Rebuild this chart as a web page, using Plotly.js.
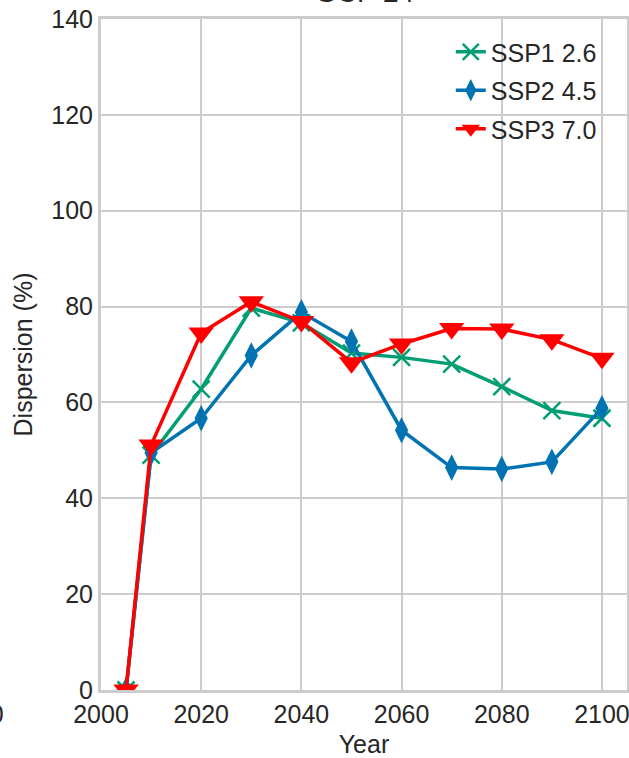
<!DOCTYPE html>
<html>
<head>
<meta charset="utf-8">
<script src="https://cdn.plot.ly/plotly-3.0.1.min.js"></script>
<style>html,body{margin:0;padding:0;background:#fff;}#chart{width:629px;height:758px;}</style>
</head>
<body>
<div id="chart"></div>
<script>
const years = [2005, 2010, 2020, 2030, 2040, 2050, 2060, 2070, 2080, 2090, 2100];
const ssp1 = [0, 49.0, 62.8, 79.7, 76.6, 70.3, 69.4, 68.0, 63.3, 58.3, 56.7];
const ssp2 = [0, 49.5, 56.7, 69.8, 78.8, 72.7, 54.2, 46.4, 46.1, 47.6, 58.8];
const ssp3 = [0, 51.1, 74.5, 81.0, 76.9, 68.3, 72.2, 75.4, 75.3, 73.1, 69.2];
const seriesNames = ['SSP1 2.6', 'SSP2 4.5', 'SSP3 7.0'];
const xTicks = [2000, 2020, 2040, 2060, 2080, 2100];
const yTicks = [0, 20, 40, 60, 80, 100, 120, 140];

const FONT = 'Liberation Sans, Arial, sans-serif';
const traces = [
  {x: years, y: ssp1, name: seriesNames[0], mode: 'lines+markers', legendgroup: 'a',
   line: {color: '#029e73', width: 3.5},
   marker: {symbol: 'x-thin', size: 17, line: {color: '#029e73', width: 2.5}, color: '#029e73'}},
  {x: years, y: ssp2, name: seriesNames[1], mode: 'lines+markers', legendgroup: 'b',
   line: {color: '#0173b2', width: 3.5},
   marker: {symbol: 'diamond-tall', size: 19, color: '#0173b2'}},
  {x: years, y: ssp3, name: seriesNames[2], mode: 'lines+markers', legendgroup: 'c',
   line: {color: '#ff0000', width: 3.5},
   marker: {symbol: 'triangle-down', size: 22, color: '#ff0000'}}
];

const layout = {
  width: 629, height: 758,
  margin: {l: 101, r: 2, t: 19, b: 68},
  paper_bgcolor: '#ffffff', plot_bgcolor: '#ffffff',
  font: {family: FONT, size: 25, color: '#262626'},
  showlegend: true,
  legend: {x: 0.665, xanchor: 'left', y: 0.985, yanchor: 'top', bgcolor: 'rgba(0,0,0,0)',
           borderwidth: 0, font: {family: FONT, size: 25, color: '#262626'},
           traceorder: 'grouped', tracegroupgap: 3},
  xaxis: {range: [2000, 2105], tickvals: xTicks, ticktext: xTicks.map(String),
          ticklabeloverflow: 'allow',
          showgrid: true, gridcolor: '#cccccc', gridwidth: 2,
          showline: true, linecolor: '#cccccc', linewidth: 3, mirror: true,
          zeroline: false, ticks: '', tickfont: {family: FONT, size: 25, color: '#262626'},
          title: {text: 'Year', font: {family: FONT, size: 25, color: '#262626'}, standoff: 10}},
  yaxis: {range: [0, 140], tickvals: yTicks, ticktext: yTicks.map(String),
          ticklabeloverflow: 'allow',
          showgrid: true, gridcolor: '#cccccc', gridwidth: 2,
          showline: true, linecolor: '#cccccc', linewidth: 3, mirror: true,
          zeroline: false, ticks: '', tickfont: {family: FONT, size: 25, color: '#262626'},
          title: {text: 'Dispersion (%)', font: {family: FONT, size: 25, color: '#262626'}, standoff: 12}},
  annotations: [
    {text: 'GCP 24', xref: 'paper', yref: 'paper', x: 0.5, y: 1.0, yshift: 9, xanchor: 'center', yanchor: 'bottom',
     showarrow: false, font: {family: FONT, size: 28, color: '#262626'}},
    {text: '2100', xref: 'paper', yref: 'paper', x: 0, y: 0, xshift: -95, yshift: -8, xanchor: 'right', yanchor: 'top',
     showarrow: false, font: {family: FONT, size: 25, color: '#262626'}}
  ]
};

Plotly.newPlot('chart', traces, layout, {displayModeBar: false, staticPlot: true});
</script>
</body>
</html>
